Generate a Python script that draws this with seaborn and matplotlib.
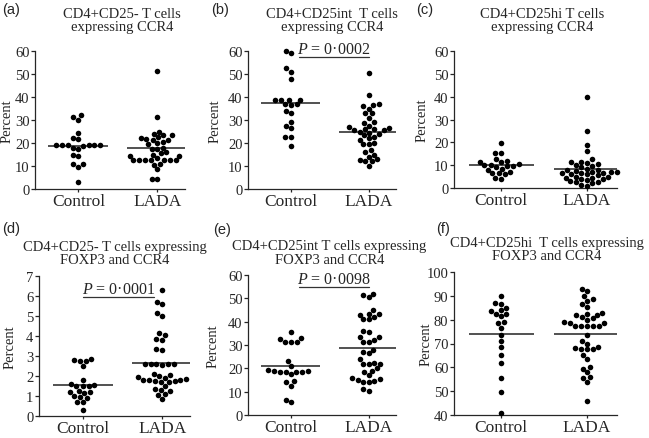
"""
Scatter (dot) plots of CCR4 / FOXP3 expression, Control vs LADA, six panels
"""
import numpy as np
import pandas as pd
import matplotlib
matplotlib.use("Agg")
import matplotlib.pyplot as plt
import seaborn as sns

groups = ["Control", "LADA"]

# (a) CD4+CD25- CCR4
ctrl_a = [32.3, 31.3, 30.2, 24.5, 22.0, 21.8, 19.2, 19.0, 19.0, 19.0, 18.9, 19.1, 19.0,
          17.8, 17.3, 14.8, 14.5, 11.0, 10.7, 9.6, 3.0]
lada_a = [51.5, 31.3, 25.0, 24.0, 23.5, 23.5, 22.5, 22.0, 21.8, 21.5, 21.5, 20.5, 20.0,
          19.5, 18.0, 17.5, 17.5, 16.0, 15.5, 15.0, 14.5, 14.5, 13.5, 12.5, 12.5, 12.5,
          12.5, 12.5, 12.5, 12.5, 11.0, 10.5, 8.5, 4.5, 4.5]
# (b) CD4+CD25int CCR4
ctrl_b = [60.0, 59.0, 52.5, 51.0, 48.0, 38.8, 38.8, 38.8, 38.8, 37.0, 37.0, 36.5,
          34.0, 33.0, 29.0, 27.5, 26.5, 22.5, 22.5, 18.5]
lada_b = [50.5, 41.0, 37.0, 36.5, 36.0, 35.0, 33.0, 33.0, 31.0, 29.0, 28.5, 27.5, 27.0,
          26.5, 26.0, 26.0, 25.5, 25.5, 25.0, 24.5, 24.0, 23.5, 22.5, 22.0, 21.5, 20.0,
          19.5, 19.5, 17.0, 16.0, 15.0, 14.0, 13.0, 12.5, 12.0, 12.0, 10.0]
# (c) CD4+CD25hi CCR4
ctrl_c = [19.5, 15.5, 15.5, 12.5, 12.0, 11.5, 11.5, 10.5, 10.0, 10.0, 9.5, 9.5, 9.0,
          8.5, 8.0, 7.0, 6.5, 6.5, 6.0, 4.5, 4.0]
lada_c = [40.0, 25.0, 19.0, 16.0, 12.5, 11.5, 11.5, 11.0, 10.5, 10.0, 9.5, 9.0, 8.5,
          8.0, 8.0, 7.5, 7.0, 7.0, 7.0, 6.5, 6.5, 6.5, 6.0, 6.0, 5.5, 5.0, 5.0, 4.5,
          4.5, 4.0, 4.0, 3.5, 3.0, 2.5, 2.5, 2.0, 1.5, 1.0]
# (d) CD4+CD25- FOXP3 and CCR4
ctrl_d = [2.85, 2.8, 2.75, 2.75, 2.5, 1.8, 1.6, 1.55, 1.5, 1.5, 1.5, 1.25, 1.2, 1.2,
          1.15, 1.0, 0.95, 0.9, 0.7, 0.7, 0.3]
lada_d = [6.3, 5.7, 5.6, 5.15, 5.0, 4.15, 4.05, 3.85, 3.8, 3.35, 3.3, 2.6, 2.6, 2.6,
          2.6, 2.6, 2.55, 2.1, 2.05, 2.0, 1.95, 1.9, 1.85, 1.8, 1.8, 1.8, 1.75, 1.75,
          1.7, 1.7, 1.5, 1.35, 1.3, 1.25, 1.1, 1.05, 0.85]
# (e) CD4+CD25int FOXP3 and CCR4
ctrl_e = [35.5, 33.0, 32.5, 31.5, 31.5, 31.5, 23.0, 21.0, 19.5, 19.0, 19.0, 18.5, 18.5,
          18.5, 18.5, 17.5, 14.5, 14.0, 12.5, 6.5, 5.5]
lada_e = [52.0, 51.5, 50.5, 45.0, 43.5, 43.5, 43.0, 42.0, 41.0, 41.0, 36.0, 35.5, 33.5,
          33.5, 32.0, 31.5, 31.5, 28.0, 27.0, 26.5, 24.0, 22.5, 22.0, 22.0, 22.0, 20.0,
          19.0, 18.5, 17.0, 16.0, 15.5, 15.0, 14.5, 14.0, 14.0, 11.0, 10.5]
# (f) CD4+CD25hi FOXP3 and CCR4
ctrl_f = [90.0, 87.0, 86.5, 85.0, 84.0, 83.5, 82.5, 82.5, 81.5, 79.0, 78.5, 76.5, 73.5,
          71.0, 68.5, 65.0, 62.0, 55.5, 49.5, 41.0]
lada_f = [93.0, 92.0, 90.0, 88.5, 88.0, 86.5, 85.5, 83.0, 82.5, 82.0, 82.0, 81.0, 80.5,
          80.0, 79.0, 78.5, 78.5, 77.5, 77.5, 77.5, 77.5, 77.5, 73.5, 71.0, 70.0, 68.5,
          68.0, 67.5, 67.5, 67.5, 65.0, 63.5, 60.0, 59.5, 58.0, 56.0, 55.5, 54.0, 46.0]

titles = ["CD4+CD25- T cells\nexpressing CCR4",
          "CD4+CD25int  T cells\nexpressing CCR4",
          "CD4+CD25hi T cells\nexpressing CCR4",
          "CD4+CD25- T cells expressing\nFOXP3 and CCR4",
          "CD4+CD25int T cells expressing\nFOXP3 and CCR4",
          "CD4+CD25hi  T cells expressing\nFOXP3 and CCR4"]
panel_tags = ["(a)", "(b)", "(c)", "(d)", "(e)", "(f)"]
p_values = [None, "0·0002", None, "0·0001", "0·0098", None]
y_ranges = [(0, 60, 10), (0, 60, 10), (0, 60, 10), (0, 7, 1), (0, 60, 10), (40, 100, 10)]

sns.set_style("ticks")
plt.rcParams["font.family"] = ["Liberation Serif", "DejaVu Serif"]
plt.rcParams["mathtext.fontset"] = "custom"
plt.rcParams["mathtext.it"] = "Liberation Serif:italic"
plt.rcParams["mathtext.rm"] = "Liberation Serif"

W, H = 649, 439
fig = plt.figure(figsize=(W / 100, H / 100), dpi=100)

# axes boxes in pixels: left, right, top, bottom
boxes = [(35, 185, 52, 190), (248, 396, 52, 190), (454, 617, 52, 189),
         (39, 190, 277, 417), (248, 396, 276, 416), (454, 617, 273, 416)]
ylabel_x = [14, 222, 429, 17, 220, 433]   # right edge of the rotated "Percent"
title_x = [0.58, 0.57, 0.54, 0.5, 0.55, 0.57]
tag_pos = [(2, 3), (211, 3), (416, 3), (2, 222), (213, 223), (436, 222)]
# p-value bar: x0, x1, y, text x
p_bar = [None, (0.1, 1.0, 57.5, 0.55), None, (0.0, 0.9, 5.95, 0.45), (0.1, 1.0, 54.9, 0.55), None]

data = [(ctrl_a, lada_a), (ctrl_b, lada_b), (ctrl_c, lada_c),
        (ctrl_d, lada_d), (ctrl_e, lada_e), (ctrl_f, lada_f)]

for i, (ctrl, lada) in enumerate(data):
    l, r, t, b = boxes[i]
    ax = fig.add_axes([l / W, 1 - b / H, (r - l) / W, (b - t) / H])
    df = pd.DataFrame({"group": ["Control"] * len(ctrl) + ["LADA"] * len(lada),
                       "value": ctrl + lada})
    sns.swarmplot(data=df, x="group", y="value", order=groups, color="black",
                  size=4, ax=ax, warn_thresh=1)
    for c in ax.collections:
        c.set_clip_on(False)

    # mean lines
    for j, vals in enumerate((ctrl, lada)):
        ax.hlines(np.mean(vals), j - 0.38, j + 0.38, color="#222222", lw=1.1)

    y0, y1, step = y_ranges[i]
    ax.set_ylim(y0, y1)
    ax.set_yticks(np.arange(y0, y1 + step / 2, step))
    ax.set_xlim(-0.55, 1.35)
    ax.set_xlabel("")
    ax.set_ylabel("Percent", fontsize=10.5)
    ax.yaxis.set_label_coords((ylabel_x[i] - l) / (r - l), 0.5)
    ax.tick_params(axis="y", labelsize=10.5, length=3, width=0.9, pad=1)
    ax.tick_params(axis="x", labelsize=12.5, length=2.5, width=0.9, pad=0.5)
    sns.despine(ax=ax)
    for s in ("left", "bottom"):
        ax.spines[s].set_linewidth(0.9)

    pad = 15 if i < 3 else 9
    ax.set_title(titles[i], fontsize=10.5, x=title_x[i], pad=pad, linespacing=1.05)

    if p_bar[i] is not None:
        x0, x1, yb, xt = p_bar[i]
        ax.plot([x0, x1], [yb, yb], color="#333333", lw=0.9, clip_on=False)
        ax.text(xt, yb, r"$P$ = " + p_values[i], ha="center", va="bottom",
                fontsize=11.5, clip_on=False)

    tx, ty = tag_pos[i]
    fig.text(tx / W, 1 - ty / H, panel_tags[i], family="Liberation Sans",
             fontsize=10.5, va="top", ha="left")

fig.savefig("out.png", dpi=100)
